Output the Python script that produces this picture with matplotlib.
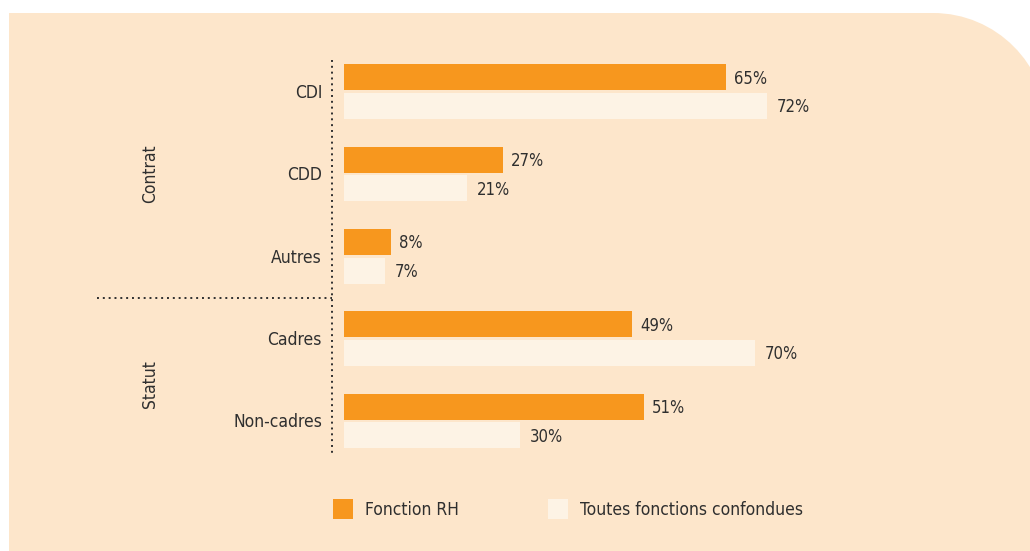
import matplotlib.pyplot as plt
from matplotlib.path import Path
from matplotlib.patches import PathPatch

plt.rcParams['font.family'] = ['DejaVu Sans']
plt.rcParams['font.stretch'] = 'condensed'

# données
categories = ["CDI", "CDD", "Autres", "Cadres", "Non-cadres"]
fonction_rh = [65, 27, 8, 49, 51]
toutes_fonctions = [72, 21, 7, 70, 30]
groupes = ["Contrat", "Statut"]
legende = ["Fonction RH", "Toutes fonctions confondues"]

ORANGE = "#F7971E"
CLAIR = "#FDF3E5"
FOND = "#FDE6CB"
TEXTE = "#2f2f2f"

W, H = 1030, 551
fig = plt.figure(figsize=(W / 100, H / 100), dpi=100)
fig.patch.set_facecolor("white")

# fond arrondi en haut à droite (coordonnées pixels -> fraction figure)
R = 114
x0, x1, yt, yb = 9, 1047, 13, 551
k = 0.5523
pts = [(x0, yb), (x0, yt), (x1 - R, yt),
       (x1 - R + k * R, yt), (x1, yt + R - k * R), (x1, yt + R),
       (x1, yb), (x0, yb)]
codes = [Path.MOVETO, Path.LINETO, Path.LINETO,
         Path.CURVE4, Path.CURVE4, Path.CURVE4,
         Path.LINETO, Path.CLOSEPOLY]
pts = [(x / W, 1 - y / H) for x, y in pts]
fig.add_artist(PathPatch(Path(pts, codes), facecolor=FOND, edgecolor="none",
                         transform=fig.transFigure, zorder=0))

# axes : x=0 à 344 px, 5.877 px par %
px_per = (726 - 344) / 65
ax_left, ax_right = 344, 344 + 100 * px_per
ax_top, ax_bot = 40, 470
ax = fig.add_axes([ax_left / W, 1 - ax_bot / H, (ax_right - ax_left) / W,
                   (ax_bot - ax_top) / H])
ax.set_facecolor("none")
row = 82.4
ax.set_xlim(0, 100)
ax.set_ylim((ax_bot - 91.5) / row, (ax_top - 91.5) / row)
ax.axis("off")

h = 26 / row
off = 14.3 / row
ys = list(range(len(categories)))
b1 = ax.barh([y - off for y in ys], fonction_rh, height=h, color=ORANGE)
b2 = ax.barh([y + off for y in ys], toutes_fonctions, height=h, color=CLAIR)

for y, v in zip(ys, fonction_rh):
    ax.annotate(f"{v}%", (v, y - off), xytext=(6, -1), textcoords="offset points",
                va="center", ha="left", fontsize=12, color=TEXTE)
for y, v in zip(ys, toutes_fonctions):
    ax.annotate(f"{v}%", (v, y + off), xytext=(7, -1), textcoords="offset points",
                va="center", ha="left", fontsize=12, color=TEXTE)

lab_x = (322 - 344) / px_per
for y, c in zip(ys, categories):
    ax.text(lab_x, y + 0.015, c, ha="right", va="center", fontsize=12.5,
            color=TEXTE)

# séparateurs pointillés
sep_x = (332 - 344) / px_per
ax.plot([sep_x, sep_x], [(60 - 91.5) / row, (455 - 91.5) / row], ls=(0, (1, 2)),
        lw=1.4, color=TEXTE, clip_on=False)
ax.plot([(97 - 344) / px_per, sep_x], [2.5, 2.5], ls=(0, (1, 2)),
        lw=1.4, color=TEXTE, clip_on=False)

grp_x = (150 - 344) / px_per
ax.text(grp_x, 1, groupes[0], rotation=90, ha="center", va="center",
        fontsize=12.5, color=TEXTE)
ax.text(grp_x, 3.55, groupes[1], rotation=90, ha="center", va="center",
        fontsize=12.5, color=TEXTE)

leg = fig.legend([b1, b2], legende, loc="upper left",
                 bbox_to_anchor=(333 / W, 1 - 499 / H), frameon=False, ncol=2,
                 borderpad=0, borderaxespad=0, handlelength=1.15,
                 handleheight=1.4, handletextpad=0.7, columnspacing=5.1,
                 fontsize=12.5, labelcolor=TEXTE)

fig.savefig("out.png", dpi=100, facecolor="white")
